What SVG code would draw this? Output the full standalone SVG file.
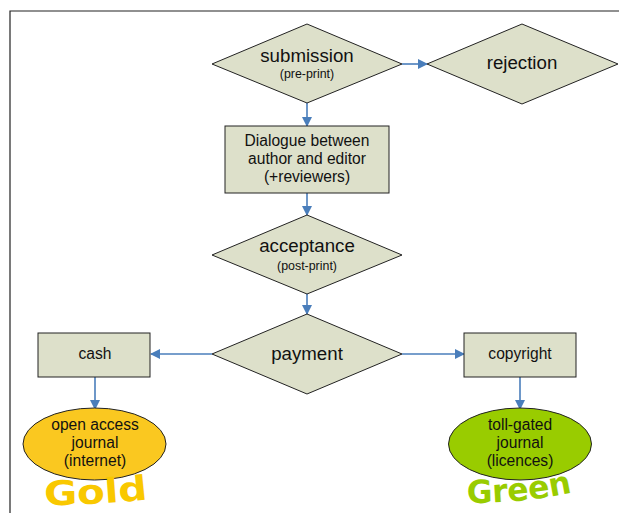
<svg xmlns="http://www.w3.org/2000/svg" width="619" height="513" viewBox="0 0 619 513">
  <style>
    .shape { fill: #dde0ca; stroke: #222; stroke-width: 1; }
    .lbl { font-family: "Liberation Sans", Arial, sans-serif; fill: #111; text-anchor: middle; }
    .big { font-size: 18.7px; }
    .mid { font-size: 15.6px; }
    .small { font-size: 12.4px; }
    .conn { stroke: #4a7ebb; stroke-width: 1.6; fill: none; marker-end: url(#arr); }
    .word { font-family: "DejaVu Sans", "Liberation Sans", sans-serif; font-weight: 900; }
  </style>
  <defs>
    <marker id="arr" markerWidth="10" markerHeight="10" refX="9" refY="5" orient="auto" markerUnits="userSpaceOnUse">
      <path d="M0,0 L10,5 L0,10 Z" fill="#4a7ebb"/>
    </marker>
    <path id="goldArc" d="M44,505 Q100,505 150,499"/>
    <path id="greenArc" d="M467,503 Q525,503 575,492"/>
  </defs>

  <rect width="619" height="513" fill="#fff"/>
  <!-- frame -->
  <path d="M10,513 L10,11 L619,11" fill="none" stroke="#222" stroke-width="1.2"/>

  <g id="connectors">
    <line class="conn" x1="402" y1="64" x2="427" y2="64"/>
    <line class="conn" x1="307" y1="103" x2="307" y2="126"/>
    <line class="conn" x1="307" y1="193" x2="307" y2="215"/>
    <line class="conn" x1="307" y1="294" x2="307" y2="314"/>
    <line class="conn" x1="212" y1="354" x2="151" y2="354"/>
    <line class="conn" x1="402" y1="354" x2="464" y2="354"/>
    <line class="conn" x1="95" y1="377" x2="95" y2="409"/>
    <line class="conn" x1="520" y1="377" x2="520" y2="409"/>
  </g>

  <g id="submission">
    <polygon class="shape" points="307,24 402,64 307,103 212,64"/>
    <text class="lbl big" x="307" y="62">submission</text>
    <text class="lbl small" x="307" y="78">(pre-print)</text>
  </g>

  <g id="rejection">
    <polygon class="shape" points="522,24 618,64 522,104 427,64"/>
    <text class="lbl big" x="522" y="69">rejection</text>
  </g>

  <g id="dialogue">
    <rect class="shape" x="225" y="126" width="164" height="67"/>
    <text class="lbl mid" x="307" y="146">Dialogue between</text>
    <text class="lbl mid" x="307" y="164">author and editor</text>
    <text class="lbl mid" x="307" y="182">(+reviewers)</text>
  </g>

  <g id="acceptance">
    <polygon class="shape" points="307,215 402,255 307,294 212,255"/>
    <text class="lbl big" x="307" y="252">acceptance</text>
    <text class="lbl small" x="307" y="270">(post-print)</text>
  </g>

  <g id="payment">
    <polygon class="shape" points="307,314 402,354 307,394 212,354"/>
    <text class="lbl big" x="307" y="360">payment</text>
  </g>

  <g id="cash">
    <rect class="shape" x="38" y="333" width="112" height="44"/>
    <text class="lbl mid" x="95" y="359">cash</text>
  </g>

  <g id="copyright">
    <rect class="shape" x="464" y="333" width="112" height="44"/>
    <text class="lbl mid" x="520" y="359">copyright</text>
  </g>

  <g id="gold-journal">
    <ellipse cx="94.5" cy="444" rx="71.5" ry="36" fill="#fac820" stroke="#222" stroke-width="1"/>
    <text class="lbl mid" x="95" y="430">open access</text>
    <text class="lbl mid" x="95" y="448">journal</text>
    <text class="lbl mid" x="95" y="466">(internet)</text>
    <text class="word" font-size="34" fill="#f9c800"><textPath href="#goldArc" textLength="104" lengthAdjust="spacingAndGlyphs">Gold</textPath></text>
  </g>

  <g id="green-journal">
    <ellipse cx="520" cy="444" rx="71.5" ry="36" fill="#99cc00" stroke="#222" stroke-width="1"/>
    <text class="lbl mid" x="520" y="430">toll-gated</text>
    <text class="lbl mid" x="520" y="448">journal</text>
    <text class="lbl mid" x="520" y="466">(licences)</text>
    <text class="word" font-size="32" fill="#99cc00"><textPath href="#greenArc" textLength="106" lengthAdjust="spacingAndGlyphs">Green</textPath></text>
  </g>
</svg>
